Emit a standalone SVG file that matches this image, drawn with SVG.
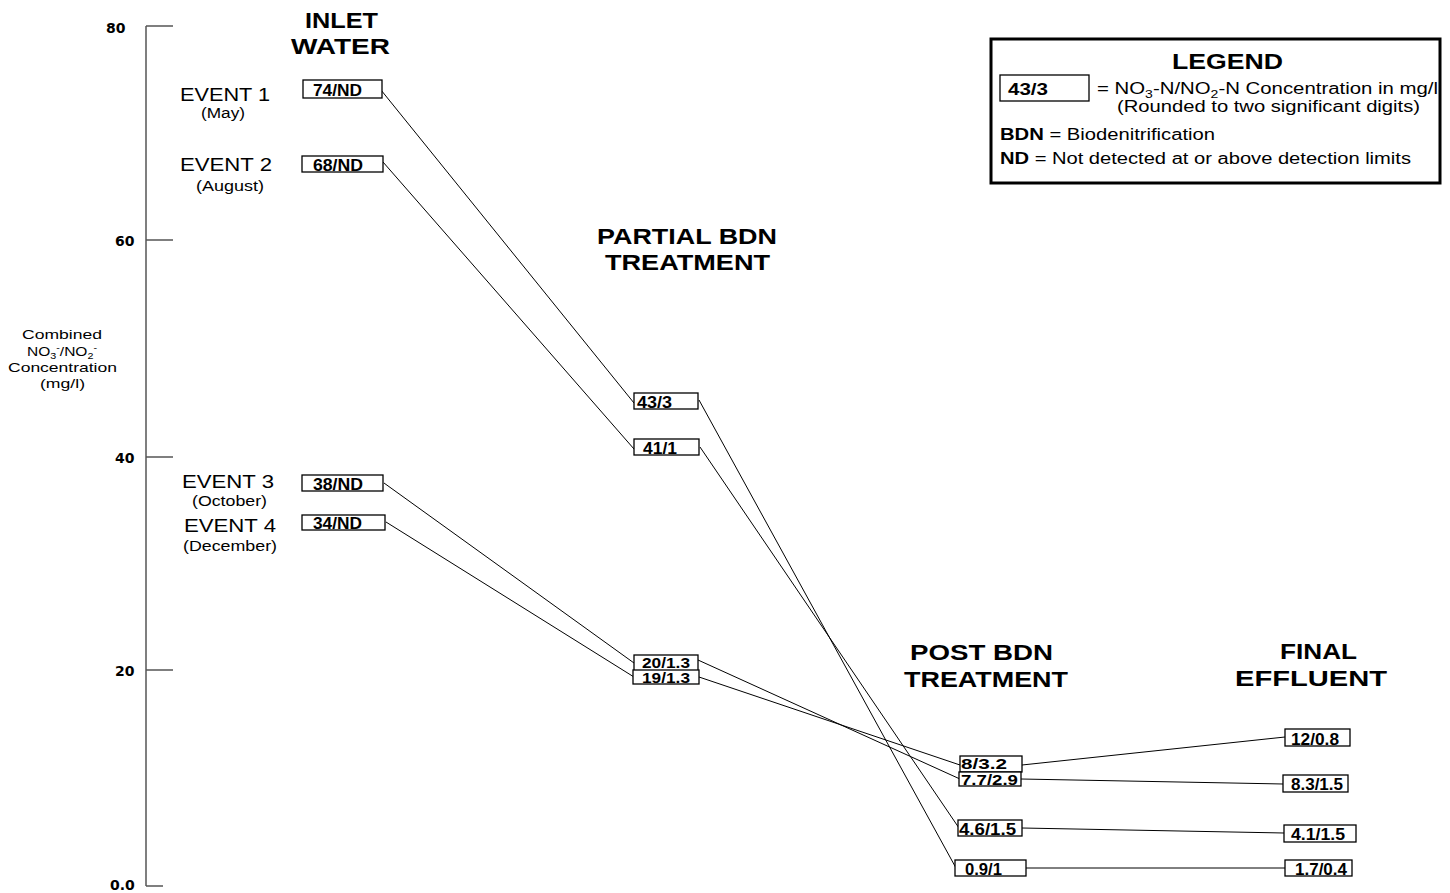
<svg xmlns="http://www.w3.org/2000/svg" width="1450" height="893" viewBox="0 0 1450 893">
<style>
text{font-family:"Liberation Sans",Arial,sans-serif;fill:#000}
.hd{font-size:22px;font-weight:bold}
.ev{font-size:18px}
.mo{font-size:14px}
.bx rect{fill:#fff;stroke:#000;stroke-width:1.3}
.bx text{font-size:16px;font-weight:bold}
.bx text.sm{font-size:14px}
.tk{font-family:"DejaVu Sans",sans-serif;font-size:14px;font-weight:bold}
.ax{stroke:#555;stroke-width:1.5;fill:none}
.ln{stroke:#000;stroke-width:1;fill:none}
.lg{font-size:16px}
.yl{font-size:13px}
</style>
<g id="axis">
<path class="ax" d="M146 26V886M146 26H173M146 240H173M146 457H173M146 670H173M146 886H163"/>
<text class="tk" x="106" y="33">80</text>
<text class="tk" x="115" y="246">60</text>
<text class="tk" x="115" y="463">40</text>
<text class="tk" x="115" y="676">20</text>
<text class="tk" x="110" y="890">0.0</text>
<text class="yl" x="22" y="339" textLength="80" lengthAdjust="spacingAndGlyphs">Combined</text>
<text class="yl" x="27" y="356" textLength="70" lengthAdjust="spacingAndGlyphs">NO<tspan font-size="9" dy="3">3</tspan><tspan font-size="9" dy="-8">-</tspan><tspan dy="5">/NO</tspan><tspan font-size="9" dy="3">2</tspan><tspan font-size="9" dy="-8">-</tspan></text>
<text class="yl" x="8" y="372" textLength="109" lengthAdjust="spacingAndGlyphs">Concentration</text>
<text class="yl" x="40" y="388" textLength="45" lengthAdjust="spacingAndGlyphs">(mg/l)</text>
</g>
<g id="headings">
<text class="hd" x="305" y="28" textLength="73" lengthAdjust="spacingAndGlyphs">INLET</text>
<text class="hd" x="291" y="54" textLength="99" lengthAdjust="spacingAndGlyphs">WATER</text>
<text class="hd" x="597" y="244" textLength="180" lengthAdjust="spacingAndGlyphs">PARTIAL BDN</text>
<text class="hd" x="605" y="270" textLength="165" lengthAdjust="spacingAndGlyphs">TREATMENT</text>
<text class="hd" x="910" y="660" textLength="143" lengthAdjust="spacingAndGlyphs">POST BDN</text>
<text class="hd" x="904" y="687" textLength="164" lengthAdjust="spacingAndGlyphs">TREATMENT</text>
<text class="hd" x="1280" y="659" textLength="77" lengthAdjust="spacingAndGlyphs">FINAL</text>
<text class="hd" x="1235" y="686" textLength="152" lengthAdjust="spacingAndGlyphs">EFFLUENT</text>
</g>
<g id="events">
<text class="ev" x="180" y="101" textLength="90" lengthAdjust="spacingAndGlyphs">EVENT 1</text>
<text class="mo" x="201" y="118" textLength="44" lengthAdjust="spacingAndGlyphs">(May)</text>
<text class="ev" x="180" y="171" textLength="92" lengthAdjust="spacingAndGlyphs">EVENT 2</text>
<text class="mo" x="196" y="191" textLength="68" lengthAdjust="spacingAndGlyphs">(August)</text>
<text class="ev" x="182" y="488" textLength="92" lengthAdjust="spacingAndGlyphs">EVENT 3</text>
<text class="mo" x="192" y="506" textLength="75" lengthAdjust="spacingAndGlyphs">(October)</text>
<text class="ev" x="184" y="532" textLength="92" lengthAdjust="spacingAndGlyphs">EVENT 4</text>
<text class="mo" x="183" y="551" textLength="94" lengthAdjust="spacingAndGlyphs">(December)</text>
</g>
<g id="connectors">
<path class="ln" d="M381 90L634 403M699 400L956 868"/>
<path class="ln" d="M383 162L634 449M700 447L959 828"/>
<path class="ln" d="M384 483L634 663M698 660L960 779"/>
<path class="ln" d="M386 522L634 677M699 677L960 765"/>
<path class="ln" d="M1022 765L1285 737M1021 779L1283 784M1022 828L1284 833M1026 868L1285 868"/>
</g>
<g id="n74" class="bx"><rect x="303" y="80" width="79" height="18"/><text x="313" y="96" textLength="49" lengthAdjust="spacingAndGlyphs">74/ND</text></g>
<g id="n68" class="bx"><rect x="302" y="156" width="81" height="16"/><text x="313" y="171" textLength="50" lengthAdjust="spacingAndGlyphs">68/ND</text></g>
<g id="n38" class="bx"><rect x="302" y="475" width="81" height="16"/><text x="313" y="490" textLength="50" lengthAdjust="spacingAndGlyphs">38/ND</text></g>
<g id="n34" class="bx"><rect x="302" y="515" width="83" height="15"/><text x="313" y="529" textLength="49" lengthAdjust="spacingAndGlyphs">34/ND</text></g>
<g id="n43" class="bx"><rect x="634" y="393" width="64" height="16"/><text x="637" y="408" textLength="35" lengthAdjust="spacingAndGlyphs">43/3</text></g>
<g id="n41" class="bx"><rect x="634" y="439" width="65" height="16"/><text x="643" y="454" textLength="34" lengthAdjust="spacingAndGlyphs">41/1</text></g>
<g id="n20" class="bx"><rect x="634" y="655" width="64" height="16"/><text class="sm" x="642" y="668" textLength="48" lengthAdjust="spacingAndGlyphs">20/1.3</text></g>
<g id="n19" class="bx"><rect x="633" y="670" width="66" height="14"/><text class="sm" x="642" y="683" textLength="48" lengthAdjust="spacingAndGlyphs">19/1.3</text></g>
<g id="n8" class="bx"><rect x="960" y="756" width="62" height="16"/><text class="sm" x="961" y="769" textLength="46" lengthAdjust="spacingAndGlyphs">8/3.2</text></g>
<g id="n77" class="bx"><rect x="959" y="772" width="62" height="14"/><text class="sm" x="961" y="785" textLength="57" lengthAdjust="spacingAndGlyphs">7.7/2.9</text></g>
<g id="n46" class="bx"><rect x="958" y="820" width="64" height="16"/><text x="959" y="835" textLength="57" lengthAdjust="spacingAndGlyphs">4.6/1.5</text></g>
<g id="n09" class="bx"><rect x="955" y="860" width="71" height="16"/><text x="965" y="875" textLength="37" lengthAdjust="spacingAndGlyphs">0.9/1</text></g>
<g id="n12" class="bx"><rect x="1285" y="729" width="65" height="17"/><text x="1291" y="745" textLength="48" lengthAdjust="spacingAndGlyphs">12/0.8</text></g>
<g id="n83" class="bx"><rect x="1283" y="775" width="65" height="17"/><text x="1291" y="790" textLength="52" lengthAdjust="spacingAndGlyphs">8.3/1.5</text></g>
<g id="n41b" class="bx"><rect x="1284" y="825" width="72" height="17"/><text x="1291" y="840" textLength="54" lengthAdjust="spacingAndGlyphs">4.1/1.5</text></g>
<g id="n17" class="bx"><rect x="1285" y="860" width="67" height="16"/><text x="1295" y="875" textLength="52" lengthAdjust="spacingAndGlyphs">1.7/0.4</text></g>
<g id="legend">
<rect x="991" y="39" width="449" height="144" fill="#fff" stroke="#000" stroke-width="3"/>
<text class="hd" x="1172" y="69" textLength="111" lengthAdjust="spacingAndGlyphs">LEGEND</text>
<g class="bx"><rect x="1000" y="75" width="89" height="26"/><text x="1008" y="95" textLength="40" lengthAdjust="spacingAndGlyphs">43/3</text></g>
<text class="lg" x="1097" y="94" textLength="341" lengthAdjust="spacingAndGlyphs">= NO<tspan font-size="11" dy="4">3</tspan><tspan dy="-4">-N/NO</tspan><tspan font-size="11" dy="4">2</tspan><tspan dy="-4">-N Concentration in mg/l</tspan></text>
<text class="lg" x="1117" y="112" textLength="303" lengthAdjust="spacingAndGlyphs">(Rounded to two significant digits)</text>
<text class="lg" x="1000" y="140" textLength="215" lengthAdjust="spacingAndGlyphs"><tspan font-weight="bold">BDN</tspan> = Biodenitrification</text>
<text class="lg" x="1000" y="164" textLength="411" lengthAdjust="spacingAndGlyphs"><tspan font-weight="bold">ND</tspan> = Not detected at or above detection limits</text>
</g>
</svg>
